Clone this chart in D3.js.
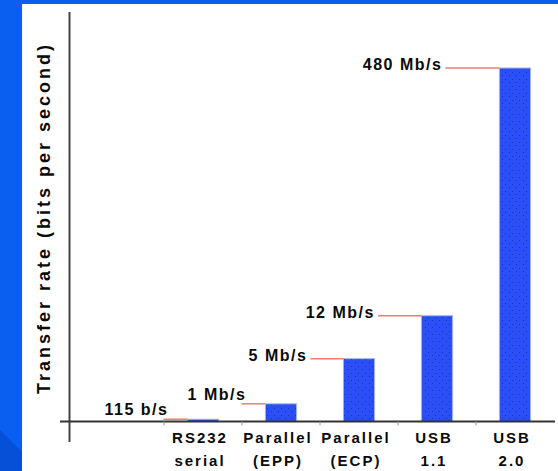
<!DOCTYPE html>
<meta charset="utf-8">
<script src="https://d3js.org/d3.v7.min.js"></script>
<style>
  body { margin: 0; }
  text { font-family: "Liberation Sans", Arial, sans-serif; font-weight: bold; fill: #0a0a0a; }
</style>
<div class="chart"></div>
<script>
    // data (rates in Mb/s)
    var categories = ["RS232|serial", "Parallel|(EPP)", "Parallel|(ECP)", "USB|1.1", "USB|2.0"];
    var rates = [0.115, 1, 5, 12, 480];
    var rateLabels = ["115 b/s", "1 Mb/s", "5 Mb/s", "12 Mb/s", "480 Mb/s"];

    var width = 558, height = 471;
    var base = 421.5;

    var svg = d3.select(".chart").append("svg")
        .attr("width", width)
        .attr("height", height);

    // slide background
    svg.append("rect").attr("width", width).attr("height", height).attr("fill", "#0a5ff0");
    svg.append("path").attr("d", "M0,430 L22,452 L22,471 L0,471 Z").attr("fill", "#0650d8");
    svg.append("rect").attr("x", 22).attr("y", 4).attr("width", width - 22).attr("height", height - 4)
        .attr("fill", "#fff");

    // dotted texture for the bars
    var pat = svg.append("defs").append("pattern")
        .attr("id", "dots").attr("width", 7).attr("height", 7)
        .attr("patternUnits", "userSpaceOnUse");
    pat.append("rect").attr("width", 7).attr("height", 7).attr("fill", "#2a4ff6");
    pat.append("rect").attr("x", 1).attr("y", 2).attr("width", 1).attr("height", 1).attr("fill", "#1a34b8");
    pat.append("rect").attr("x", 5).attr("y", 5).attr("width", 1).attr("height", 1).attr("fill", "#1a34b8");

    var x = d3.scaleBand()
        .domain(categories)
        .range([164, 554])
        .paddingInner(0.6)
        .paddingOuter(0.3);

    // the picture is not drawn to a linear scale, a symlog fits it
    var y = d3.scaleSymlog()
        .constant(3.6)
        .domain([0, 480])
        .range([base, 68]);

    var step = x.step();

    // bars
    svg.selectAll(null)
        .data(rates)
        .enter()
        .append("rect")
        .attr("x", function(d, i) { return x(categories[i]); })
        .attr("y", function(d) { return y(d); })
        .attr("width", x.bandwidth())
        .attr("height", function(d) { return base - y(d); })
        .attr("fill", "url(#dots)")
        .attr("stroke", "#a9b4df")
        .attr("stroke-width", 1);

    // axes
    svg.append("line")
        .attr("x1", 69.5).attr("x2", 69.5).attr("y1", 12).attr("y2", 442)
        .attr("stroke", "#444").attr("stroke-width", 2);
    svg.append("line")
        .attr("x1", 60).attr("x2", 555).attr("y1", base).attr("y2", base)
        .attr("stroke", "#333").attr("stroke-width", 2);

    svg.selectAll(null)
        .data(categories)
        .enter()
        .append("line")
        .attr("x1", function(d) { return x(d) - step * 0.3; })
        .attr("x2", function(d) { return x(d) - step * 0.3; })
        .attr("y1", base)
        .attr("y2", base + 4)
        .attr("stroke", "#999");

    // leader lines and value labels
    function leader(i) { return Math.max(24, 12 + i * 10.5); }
    function isLow(d) { return base - y(d) < 20; }

    svg.selectAll(null)
        .data(rates)
        .enter()
        .append("line")
        .attr("x1", function(d, i) { return x(categories[i]) - leader(i); })
        .attr("x2", function(d, i) { return x(categories[i]); })
        .attr("y1", function(d) { return y(d); })
        .attr("y2", function(d) { return y(d); })
        .attr("stroke", "#f07a7a")
        .attr("stroke-width", 1.5);

    svg.selectAll(null)
        .data(rates)
        .enter()
        .append("text")
        .attr("x", function(d, i) {
            return x(categories[i]) - leader(i) + (isLow(d) ? 5 : -3);
        })
        .attr("y", function(d) { return y(d) + (isLow(d) ? -4 : 2); })
        .attr("text-anchor", "end")
        .attr("font-size", "16px")
        .attr("letter-spacing", "1.5px")
        .text(function(d, i) { return rateLabels[i]; });

    // category labels
    var cat = svg.selectAll(null)
        .data(categories)
        .enter()
        .append("text")
        .attr("text-anchor", "middle")
        .attr("font-size", "15px")
        .attr("letter-spacing", "2px");
    cat.append("tspan")
        .attr("x", function(d) { return x(d) + x.bandwidth() / 2 - 3; })
        .attr("y", 443)
        .text(function(d) { return d.split("|")[0]; });
    cat.append("tspan")
        .attr("x", function(d) { return x(d) + x.bandwidth() / 2 - 3; })
        .attr("y", 466)
        .text(function(d) { return d.split("|")[1]; });

    // y axis title
    svg.append("text")
        .attr("transform", "translate(50,218) rotate(-90)")
        .attr("text-anchor", "middle")
        .attr("font-size", "18px")
        .attr("letter-spacing", "3px")
        .text("Transfer rate (bits per second)");
</script>
